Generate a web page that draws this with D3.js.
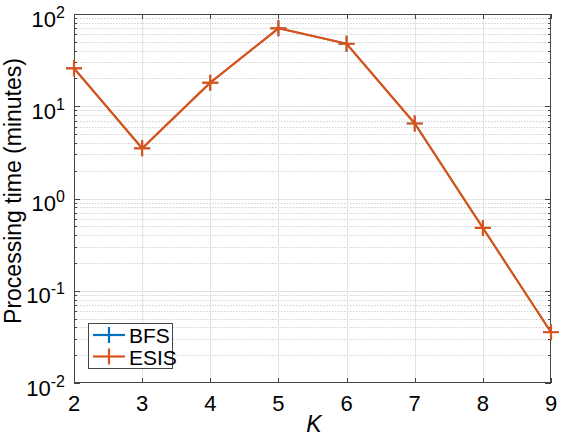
<!DOCTYPE html>
<html><head><meta charset="utf-8">
<script src="https://cdn.jsdelivr.net/npm/d3@7"></script>
<style>body{margin:0;background:#fff}svg{display:block}text{font-family:"Liberation Sans",Arial,sans-serif;fill:#000}</style>
</head><body>
<svg id="c" width="561" height="437"></svg>
<script>
const kValues = [2, 3, 4, 5, 6, 7, 8, 9];
const bfsTimes = [25.8, 3.5, 18, 70, 47.6, 6.5, 0.48, 0.0355];
const esisTimes = [25.8, 3.5, 18, 70, 47.6, 6.5, 0.48, 0.0355];
const xTicks = [2, 3, 4, 5, 6, 7, 8, 9];
const yDecades = [-2, -1, 0, 1, 2];
const seriesNames = ["BFS", "ESIS"];
const seriesColors = ["#0072BD", "#D95319"];

const svg = d3.select("#c");
const L = 74, R = 551, T = 14, B = 383;
const x = d3.scaleLinear().domain([2, 9]).range([L, R]);
const y = d3.scaleLog().domain([0.01, 100]).range([B, T]);

const g = svg.append("g");
const minors = [];
for (let d = -2; d < 2; d++) for (let m = 2; m <= 9; m++) minors.push(m * Math.pow(10, d));
g.selectAll(".mg").data(minors).enter().append("line")
  .attr("x1", L).attr("x2", R).attr("y1", d => Math.round(y(d)) + 0.5).attr("y2", d => Math.round(y(d)) + 0.5)
  .attr("stroke", "#d0d0d0").attr("stroke-width", 1).attr("stroke-dasharray", "1.5,1.5");
g.selectAll(".yg").data(yDecades.slice(1, -1)).enter().append("line")
  .attr("x1", L).attr("x2", R).attr("y1", d => Math.round(y(Math.pow(10, d))) + 0.5).attr("y2", d => Math.round(y(Math.pow(10, d))) + 0.5)
  .attr("stroke", "#e3e3e3").attr("stroke-width", 1);
g.selectAll(".xg").data(xTicks.slice(1, -1)).enter().append("line")
  .attr("x1", d => Math.round(x(d)) + 0.5).attr("x2", d => Math.round(x(d)) + 0.5).attr("y1", T).attr("y2", B)
  .attr("stroke", "#e3e3e3").attr("stroke-width", 1);

const ac = "#444";
g.append("rect").attr("x", L + 0.5).attr("y", T + 0.5).attr("width", R - L - 1).attr("height", B - T - 1)
  .attr("fill", "none").attr("stroke", ac).attr("stroke-width", 1);
xTicks.forEach(t => {
  const xx = Math.round(x(t)) + 0.5;
  g.append("line").attr("x1", xx).attr("x2", xx).attr("y1", B).attr("y2", B - 5).attr("stroke", ac);
  g.append("line").attr("x1", xx).attr("x2", xx).attr("y1", T).attr("y2", T + 5).attr("stroke", ac);
});
yDecades.forEach(d => {
  const yy = Math.round(y(Math.pow(10, d))) + 0.5;
  g.append("line").attr("x1", L).attr("x2", L + 6).attr("y1", yy).attr("y2", yy).attr("stroke", ac);
  g.append("line").attr("x1", R).attr("x2", R - 6).attr("y1", yy).attr("y2", yy).attr("stroke", ac);
});
minors.forEach(v => {
  const yy = Math.round(y(v)) + 0.5;
  g.append("line").attr("x1", L).attr("x2", L + 3).attr("y1", yy).attr("y2", yy).attr("stroke", ac);
  g.append("line").attr("x1", R).attr("x2", R - 3).attr("y1", yy).attr("y2", yy).attr("stroke", ac);
});

xTicks.forEach(t => {
  g.append("text").attr("x", x(t)).attr("y", 411).attr("text-anchor", "middle").attr("font-size", 22).text(t);
});
yDecades.forEach(d => {
  const t = g.append("text").attr("x", 65).attr("y", y(Math.pow(10, d)) + 12.5).attr("text-anchor", "end").attr("font-size", 22);
  t.append("tspan").text("10");
  t.append("tspan").attr("font-size", 16).attr("dy", -9).text(d);
});

g.append("text").attr("x", 314).attr("y", 432).attr("text-anchor", "middle").attr("font-size", 23).attr("font-style", "italic").text("K");
g.append("text").attr("transform", `translate(21,191) rotate(-90)`).attr("text-anchor", "middle").attr("font-size", 23).text("Processing time (minutes)");

const line = d3.line().x((d, i) => x(kValues[i])).y(d => y(d));
[bfsTimes, esisTimes].forEach((s, si) => {
  const w = si === 0 ? 1.6 : 2.2;
  g.append("path").datum(s).attr("d", line).attr("fill", "none").attr("stroke", seriesColors[si]).attr("stroke-width", w);
  g.selectAll(".m" + si).data(s).enter().append("path")
    .attr("d", (d, i) => { const cx = x(kValues[i]), cy = y(d); return `M${cx - 8},${cy}H${cx + 8}M${cx},${cy - 8}V${cy + 8}`; })
    .attr("stroke", seriesColors[si]).attr("stroke-width", w).attr("fill", "none");
});

const lg = g.append("g");
lg.append("rect").attr("x", 88.5).attr("y", 323.5).attr("width", 84).attr("height", 45).attr("fill", "#fff").attr("stroke", ac).attr("stroke-width", 1);
seriesNames.forEach((n, i) => {
  const cy = 335 + i * 21.5;
  lg.append("line").attr("x1", 93).attr("x2", 125).attr("y1", cy).attr("y2", cy).attr("stroke", seriesColors[i]).attr("stroke-width", 2.2);
  lg.append("line").attr("x1", 109).attr("x2", 109).attr("y1", cy - 8).attr("y2", cy + 8).attr("stroke", seriesColors[i]).attr("stroke-width", 2.2);
  lg.append("text").attr("x", 129).attr("y", cy + 8).attr("font-size", 21).text(n);
});
</script>
</body></html>
